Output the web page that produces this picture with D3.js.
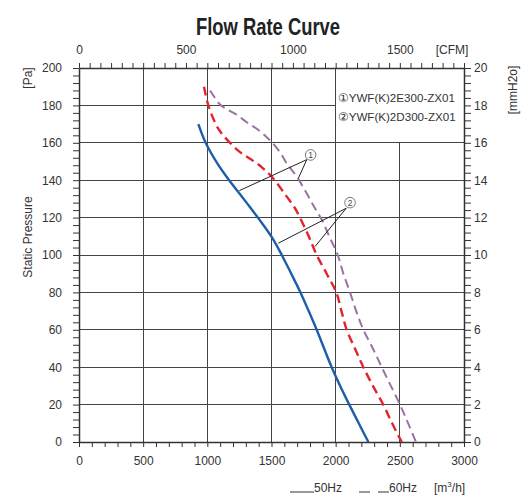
<!DOCTYPE html>
<html>
<head>
<meta charset="utf-8">
<script src="https://cdn.jsdelivr.net/npm/d3@7"></script>
<style>
  html, body { margin: 0; padding: 0; background: #fff; }
  svg { display: block; }
  text { font-family: "Liberation Sans", Arial, sans-serif; fill: #333; }
</style>
</head>
<body>
<svg id="chart" width="529" height="500"></svg>
<script>
// ---------- data ----------
const title = "Flow Rate Curve";
const legendModels = ["①YWF(K)2E300-ZX01", "②YWF(K)2D300-ZX01"];
const bottomTicks = [0, 500, 1000, 1500, 2000, 2500, 3000];
const topTicks = [0, 500, 1000, 1500];
const leftTicks = [0, 20, 40, 60, 80, 100, 120, 140, 160, 180, 200];
const rightTicks = [0, 2, 4, 6, 8, 10, 12, 14, 16, 18, 20];

// 50Hz (shared) – [m3/h, Pa]
const blue50 = [[930,170],[987,160],[1073,149.5],[1164,140.5],[1255,132.5],[1333,125.5],[1410,118.5],
  [1507,109],[1580,100],[1650,90.5],[1722,80.5],[1790,70],[1852,60],[1910,50],[1969,40],
  [2035,30],[2106,20],[2180,10],[2255,0]];
// 60Hz model ② (red)
const red60 = [[974,190],[1008,180],[1073,169],[1112,165],[1177,160],[1255,155],[1333,151.5],
  [1423,147],[1500,142],[1600,133],[1683,125],[1722,120],[1790,110],[1852,100],[1930,90],
  [2005,80],[2045,70],[2086,60],[2150,50],[2216,40],[2290,30],[2371,20],[2440,10],[2515,0]];
// 60Hz model ① (purple)
const purple60 = [[1021,188],[1060,184],[1099,180.5],[1151,178],[1229,175],[1307,171],[1385,167.5],
  [1463,163],[1500,160.5],[1566,155],[1618,149],[1696,142],[1774,133],[1839,125],[1891,119],
  [1950,110],[2016,100],[2060,90],[2112,80],[2160,70],[2216,60],[2290,50],[2359,40],
  [2430,30],[2501,20],[2565,10],[2626,0]];

// annotation callouts: circle position and leader end points (data coords)
const callouts = [
  { label: "1", at: [1805, 153.5], from: [1775, 151], ends: [[1249, 134.4], [1709, 141]] },
  { label: "2", at: [2112, 128],   from: [2082, 125], ends: [[1553, 106.3], [1839, 104.5]] }
];

// ---------- chart ----------
const svg = d3.select("#chart");
const L = 79, R = 464, T = 68, B = 442;
const x = d3.scaleLinear().domain([0, 3000]).range([L, R]);
const xCFM = d3.scaleLinear().domain([0, 1800]).range([L, R]);
const y = d3.scaleLinear().domain([0, 200]).range([B, T]);
const yMM = d3.scaleLinear().domain([0, 20]).range([B, T]);

// title (condensed look)
svg.append("text").attr("transform", "translate(268,35) scale(0.8,1)").attr("text-anchor", "middle")
  .style("font-family", "'Liberation Sans', Arial, sans-serif")
  .style("font-size", "23px").style("font-weight", "bold").style("fill", "#222")
  .text(title);

// grid
const gridCol = "#444";
const g = svg.append("g").attr("shape-rendering", "crispEdges");
leftTicks.filter(v => v > 0 && v < 200).forEach(v => {
  g.append("line").attr("x1", x(0)).attr("x2", v === 180 ? x(2000) : x(3000))
    .attr("y1", y(v)).attr("y2", y(v)).attr("stroke", gridCol).attr("stroke-width", 1);
});
bottomTicks.filter(v => v > 0 && v < 3000).forEach(v => {
  g.append("line").attr("x1", x(v)).attr("x2", x(v))
    .attr("y1", y(0)).attr("y2", v === 2500 ? y(160) : y(200))
    .attr("stroke", gridCol).attr("stroke-width", 1);
});

// axes
function styleAxis(sel) {
  sel.selectAll("path").attr("stroke", "#333").attr("stroke-width", 1.5);
  sel.selectAll("line").attr("stroke", "#333").attr("stroke-width", 1);
  sel.selectAll("text").style("font-size", "12px").style("fill", "#333")
    .style("font-family", "'Liberation Sans', Arial, sans-serif");
}
const axB = svg.append("g").attr("transform", `translate(0,${B})`)
  .call(d3.axisBottom(x).tickValues(d3.range(0, 3001, 100))
    .tickFormat(d => bottomTicks.includes(d) ? d : "").tickSize(5).tickPadding(9).tickSizeOuter(0));
styleAxis(axB);
const axT = svg.append("g").attr("transform", `translate(0,${T})`)
  .call(d3.axisTop(xCFM).tickValues(d3.range(0, 1801, 50))
    .tickFormat(d => topTicks.includes(d) ? d : "").tickSize(5).tickPadding(9).tickSizeOuter(0));
styleAxis(axT);
const axL = svg.append("g").attr("transform", `translate(${L},0)`)
  .call(d3.axisLeft(y).tickValues(d3.range(0, 201, 4))
    .tickFormat(d => leftTicks.includes(d) ? d : "").tickSize(6).tickPadding(11).tickSizeOuter(0));
styleAxis(axL);
const axR = svg.append("g").attr("transform", `translate(${R},0)`)
  .call(d3.axisRight(yMM).tickValues(d3.range(0, 51).map(i => +(i * 0.4).toFixed(1)))
    .tickFormat(d => rightTicks.includes(d) ? d : "").tickSize(7).tickPadding(3).tickSizeOuter(0));
styleAxis(axR);

// axis titles
svg.append("text").attr("x", xCFM(1800) - 12).attr("y", T - 14).attr("text-anchor", "middle")
  .style("font-size", "12px").text("[CFM]");
svg.append("text").attr("transform", "translate(32,78) rotate(-90)").attr("text-anchor", "middle")
  .style("font-size", "12px").text("[Pa]");
svg.append("text").attr("transform", "translate(32,237) rotate(-90)").attr("text-anchor", "middle")
  .style("font-size", "12px").text("Static Pressure");
svg.append("text").attr("transform", "translate(517,90) rotate(-90)").attr("text-anchor", "middle")
  .style("font-size", "12px").text("[mmH2o]");

// model legend
legendModels.forEach((t, i) => {
  svg.append("text").attr("x", x(2000) + 2).attr("y", 102 + i * 18.5)
    .style("font-size", "11.6px").text(t);
});

// curves
const line = d3.line().x(d => x(d[0])).y(d => y(d[1])).curve(d3.curveCatmullRom.alpha(0.5));
svg.append("path").datum(purple60).attr("d", line).attr("fill", "none")
  .attr("stroke", "#9b72a3").attr("stroke-width", 2).attr("stroke-dasharray", "9,5");
svg.append("path").datum(red60).attr("d", line).attr("fill", "none")
  .attr("stroke", "#e3242b").attr("stroke-width", 2.4).attr("stroke-dasharray", "9,5");
svg.append("path").datum(blue50).attr("d", line).attr("fill", "none")
  .attr("stroke", "#1d5ea8").attr("stroke-width", 2.4);

// callouts
callouts.forEach(c => {
  c.ends.forEach(e => {
    svg.append("line").attr("x1", x(c.from[0])).attr("y1", y(c.from[1]))
      .attr("x2", x(e[0])).attr("y2", y(e[1])).attr("stroke", "#222").attr("stroke-width", 1);
  });
  svg.append("circle").attr("cx", x(c.at[0])).attr("cy", y(c.at[1])).attr("r", 5.3)
    .attr("fill", "#fff").attr("stroke", "#555").attr("stroke-width", 0.8);
  svg.append("text").attr("x", x(c.at[0])).attr("y", y(c.at[1]) + 3.2).attr("text-anchor", "middle")
    .style("font-size", "8.5px").style("fill", "#444").text(c.label);
});

// bottom legend
const lg = svg.append("g");
lg.append("line").attr("x1", 290).attr("x2", 314).attr("y1", 492).attr("y2", 492)
  .attr("stroke", "#333").attr("stroke-width", 1);
lg.append("text").attr("x", 314).attr("y", 492).style("font-size", "12px").text("50Hz");
lg.append("line").attr("x1", 359).attr("x2", 389).attr("y1", 492).attr("y2", 492)
  .attr("stroke", "#333").attr("stroke-width", 1).attr("stroke-dasharray", "11,8");
lg.append("text").attr("x", 389).attr("y", 492).style("font-size", "12px").text("60Hz");
const unit = lg.append("text").attr("x", 434).attr("y", 492).style("font-size", "12px");
unit.append("tspan").text("[m");
unit.append("tspan").attr("dy", -5).style("font-size", "8px").text("3");
unit.append("tspan").attr("dy", 5).text("/h]");
</script>
</body>
</html>
